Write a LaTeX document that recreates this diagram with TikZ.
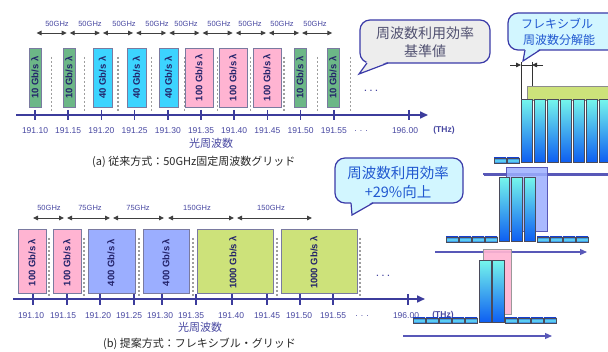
\documentclass[tikz,border=0pt]{standalone}
\usepackage{fontspec}
\setmainfont{Liberation Sans}
\newfontfamily\jp{Noto Sans CJK JP}
\usetikzlibrary{arrows.meta}
\definecolor{axisc}{HTML}{3C3C9C}
\definecolor{labc}{HTML}{4646A0}
\definecolor{boxb}{HTML}{7A7AA0}
\definecolor{boxt}{HTML}{23236A}
\definecolor{grn}{HTML}{6CB787}
\definecolor{cyn}{HTML}{3CD4FF}
\definecolor{pnk}{HTML}{FFB4D2}
\definecolor{blu}{HTML}{9BAEFF}
\definecolor{ygr}{HTML}{CDE27A}
\definecolor{darr}{HTML}{404040}
\definecolor{bubb}{HTML}{3A3AA8}
\definecolor{bubg}{HTML}{EDEDED}
\definecolor{bubc}{HTML}{D2F6FF}
\definecolor{bubt}{HTML}{2058D0}
\definecolor{bubgt}{HTML}{505070}
\definecolor{barTop}{HTML}{74F4EC}
\definecolor{barBot}{HTML}{0C5CF2}
\definecolor{barL}{HTML}{4A4A5A}
\definecolor{slabA}{HTML}{2C6EDC}
\definecolor{slabB}{HTML}{66E4F8}
\definecolor{illl}{HTML}{5858B8}
\newcommand\myslab[2]{%
  \shade[top color=slabA, bottom color=slabA, middle color=slabB] (#1,#2) rectangle ++(12,5);
  \draw[barL, line width=0.8pt] (#1,#2) rectangle ++(12,5);}
\newcommand\mybar[4]{%
  \shade[top color=barTop, bottom color=barBot] (#1,#2) rectangle ({#1+#3},#4);
  \draw[barL, line width=1pt] (#1,#2) rectangle ({#1+#3},#4);}
\tikzset{
  axisln/.style={draw=axisc, line width=1.6pt, -{Triangle[length=8pt,width=7pt]}},
  tk/.style={draw=axisc, line width=1.5pt},
  tlab/.style={font=\fontsize{8.5}{9}\selectfont, text=labc, inner sep=0},
  ghz/.style={font=\fontsize{7.5}{8}\selectfont, text=labc, inner sep=0},
  dar/.style={draw=darr, line width=0.9pt, {Triangle[length=5pt,width=4.5pt]}-{Triangle[length=5pt,width=4.5pt]}},
  gridl/.style={draw=black!38, line width=1.3pt, dash pattern=on 2pt off 2pt},
  boxn/.style={draw=boxb, line width=0.9pt, rotate=90, inner sep=0, font=\fontsize{9.5}{9.5}\selectfont\bfseries, text=boxt},
  boxtxt/.style={rotate=90, inner sep=0, font=\fontsize{9.5}{9.5}\selectfont\bfseries, text=boxt},
  bubline/.style={draw=bubb, line width=1.2pt},
  jpl/.style={font=\jp\fontsize{11}{12}\selectfont, text=labc, inner sep=0},
  capt/.style={font=\jp\fontsize{11}{12}\selectfont, text=black!85, inner sep=0},
  illarrow/.style={draw=illl, line width=1.2pt, -{Triangle[length=7pt,width=6pt]}},
  illline/.style={draw=illl, line width=1.2pt}
}
\begin{document}
\begin{tikzpicture}[x=1pt,y=-1pt]
\useasboundingbox (0,0) rectangle (608,352);
\clip (0,0) rectangle (608,352);

% ================= (a) =================
\foreach \k in {0,...,9}{
  \pgfmathsetmacro\xx{35+33.2*(\k+0.5)}
  \draw[gridl] (\xx,57) -- (\xx,112);
}
\foreach \x/\w/\c/\r [count=\k] in {35/12/grn/10, 69/12/grn/10, 102.5/19/cyn/40, 136.5/19/cyn/40, 168.5/19/cyn/40, 199/28/pnk/100, 233/28/pnk/100, 267/28/pnk/100, 300/12/grn/10, 333/12/grn/10}
  \node[boxn, fill=\c, minimum width=59pt, minimum height=\w pt] (A\k) at (\x,77.5) {\r\ Gb/s λ};

\coordinate (a0) at (16,115);
\coordinate (a1) at (428,115);
\draw[axisln] (a0) -- (a1);
\foreach \t [count=\k from 0] in {191.10,191.15,191.20,191.25,191.30,191.35,191.40,191.45,191.50,191.55}{
  \pgfmathsetmacro\xx{35+33.2*\k}
  \draw[tk] (\xx,110) -- (\xx,120);
  \node[tlab] (la\k) at (\xx,130.5) {\t};
}
\draw[tk] (409,110) -- (409,120);
\node[tlab] (ladots) at (361,131) {. . .};
\node[tlab] (la196) at (405,130.5) {196.00};
\node[tlab, font=\fontsize{8.5}{9}\selectfont\bfseries] (laTHz) at (444,130.5) {(THz)};
\node[tlab] (adots) at (371,91) {\bfseries . . .};

\foreach \k/\lx in {0/57,1/90,2/124,3/157,4/186,5/219,6/250,7/282,8/315}{
  \pgfmathsetmacro\xa{35+33.2*\k+1.5}
  \pgfmathsetmacro\xb{35+33.2*(\k+1)-1.5}
  \coordinate (ga\k) at (\xa,33);
  \coordinate (gb\k) at (\xb,33);
  \draw[dar] (ga\k) -- (gb\k);
  \node[ghz] (gl\k) at (\lx,24) {50GHz};
}
\node[jpl] (fa) at (211,143) {光周波数};
\node[capt, anchor=west] (capa) at (92,162) {(a) 従来方式：50GHz固定周波数グリッド};

% bubble (a)
\draw[bubline, fill=bubg, rounded corners=10pt] (360,20) rectangle (490,63);
\fill[bubg] (367,61.5) -- (388,61.5) -- (359,74) -- cycle;
\draw[bubline] (367,63) -- (359,74) -- (388,63);
\node[font=\jp\fontsize{14}{16}\selectfont, text=bubgt, inner sep=0] (ba1) at (425,33) {周波数利用効率};
\node[font=\jp\fontsize{14}{16}\selectfont, text=bubgt, inner sep=0] (ba2) at (425,51) {基準値};

% ================= (b) =================
\foreach \xx in {49,84,139,193,277,360}
  \draw[gridl] (\xx,238) -- (\xx,297);
\foreach \x/\w/\c [count=\k] in {32/28/pnk, 67/28/pnk, 111.5/47/blu, 166/46/blu, 235/76/ygr, 319/76/ygr}
  \node[boxn, fill=\c, minimum width=64pt, minimum height=\w pt] (B\k) at (\x,261) {};
\foreach \x/\r [count=\k] in {32/100, 67/100, 111/400, 166/400, 233/1000, 314/1000}
  \node[boxtxt] (BT\k) at (\x,262.5) {\r\ Gb/s λ};

\coordinate (b0) at (13,299);
\coordinate (b1) at (425,299);
\draw[axisln] (b0) -- (b1);
\foreach \tx/\lx/\t [count=\k] in {33/31/191.10, 67/63/191.15, 100/98/191.20, 134/129/191.25, 162/160/191.30, 196/191/191.35, 232/231/191.40, 267/267/191.45, 300/299/191.50, 333/333/191.55}{
  \draw[tk] (\tx,294) -- (\tx,305);
  \node[tlab] (lb\k) at (\lx,316) {\t};
}
\draw[tk] (408,294) -- (408,305);
\node[tlab] (lbdots) at (362,316.5) {. . .};
\node[tlab] (lb196) at (406,316) {196.00};
\node[tlab, font=\fontsize{8.5}{9}\selectfont\bfseries] (lbTHz) at (443,315) {(THz)};
\node[tlab] (bdots) at (383,276) {\bfseries . . .};

\foreach \xa/\xb/\lx/\lab [count=\k] in {33/64/49/50GHz, 67/110/90/75GHz, 113/164/138/75GHz, 168/234/197/150GHz, 237/312/271/150GHz}{
  \coordinate (ha\k) at (\xa,218);
  \coordinate (hb\k) at (\xb,218);
  \draw[dar] (ha\k) -- (hb\k);
  \node[ghz] (hl\k) at (\lx,208) {\lab};
}
\node[jpl] (fb) at (200,327) {光周波数};
\node[capt, anchor=west] (capb) at (103,344) {(b) 提案方式：フレキシブル・グリッド};

% bubble (b)
\draw[bubline, fill=bubc, rounded corners=10pt] (335,158) rectangle (463,203);
\fill[bubc] (351,201.5) -- (373,201.5) -- (352,215) -- cycle;
\draw[bubline] (351,203) -- (352,215) -- (373,203);
\node[font=\jp\fontsize{14.5}{16}\selectfont, text=bubt, inner sep=0] (bb1) at (398,173) {周波数利用効率};
\node[font=\jp\fontsize{14.5}{16}\selectfont, text=bubt, inner sep=0] (bb2) at (398,192) {+29\%向上};

% ================= right bubble =================
\draw[bubline, fill=bubc, rounded corners=10pt] (508,13) rectangle (618,50);
\fill[bubc] (525,48.5) -- (540,48.5) -- (523,61) -- cycle;
\draw[bubline] (525,50) -- (523,61) -- (540,50);
\node[font=\jp\fontsize{12}{14}\selectfont, text=bubt, inner sep=0] (rb1) at (557,24) {フレキシブル};
\node[font=\jp\fontsize{12}{14}\selectfont, text=bubt, inner sep=0] (rb2) at (559,40) {周波数分解能};

% ================= illustration 1 =================
\draw[black!80, line width=0.8pt] (521,62) -- (521,100);
\draw[black!80, line width=0.8pt] (532,62) -- (532,100);
\coordinate (r0) at (510,65);
\coordinate (r1) at (521,65);
\coordinate (r2) at (532,65);
\coordinate (r3) at (543,65);
\draw[black!80, line width=0.8pt] (r1) -- (r2);
\draw[black!80, line width=0.8pt, -{Triangle[length=5pt,width=4.5pt]}] (r0) -- (r1);
\draw[black!80, line width=0.8pt, -{Triangle[length=5pt,width=4.5pt]}] (r3) -- (r2);
\draw[fill=ygr, draw=black!45, line width=0.8pt] (527,86) rectangle (615,100);
\foreach \k in {0,...,6}{
  \pgfmathsetmacro\xx{521+13*\k}
  \mybar{\xx}{100}{11}{163}
}
\myslab{494}{158}
\myslab{507}{158}
\draw[illline] (484,175) -- (615,175);

% ================= illustration 2 =================
\draw[illline] (483,174) -- (615,174);
\draw[fill=blu, fill opacity=0.85, draw=illl, line width=0.8pt] (506,167) rectangle (547,231);
\mybar{499}{178}{10.5}{242}
\mybar{511.5}{178}{10.5}{242}
\mybar{524}{178}{11}{242}
\foreach \xx in {446,459,472,485,537,550,563,576}
  \myslab{\xx}{237}
\coordinate (m0) at (435,252);
\coordinate (m1) at (587,252);
\draw[illarrow] (m0) -- (m1);

% ================= illustration 3 =================
\draw[fill=pnk, fill opacity=0.92, draw=black!40, line width=0.8pt] (483,249) rectangle (511,314);
\mybar{479}{261}{12}{323}
\mybar{492}{261}{12}{323}
\foreach \xx in {413,426,439,452,465,505,518,531,544}
  \myslab{\xx}{318}
\coordinate (n0) at (403,336);
\coordinate (n1) at (552,336);
\draw[illarrow] (n0) -- (n1);

\end{tikzpicture}
\end{document}
